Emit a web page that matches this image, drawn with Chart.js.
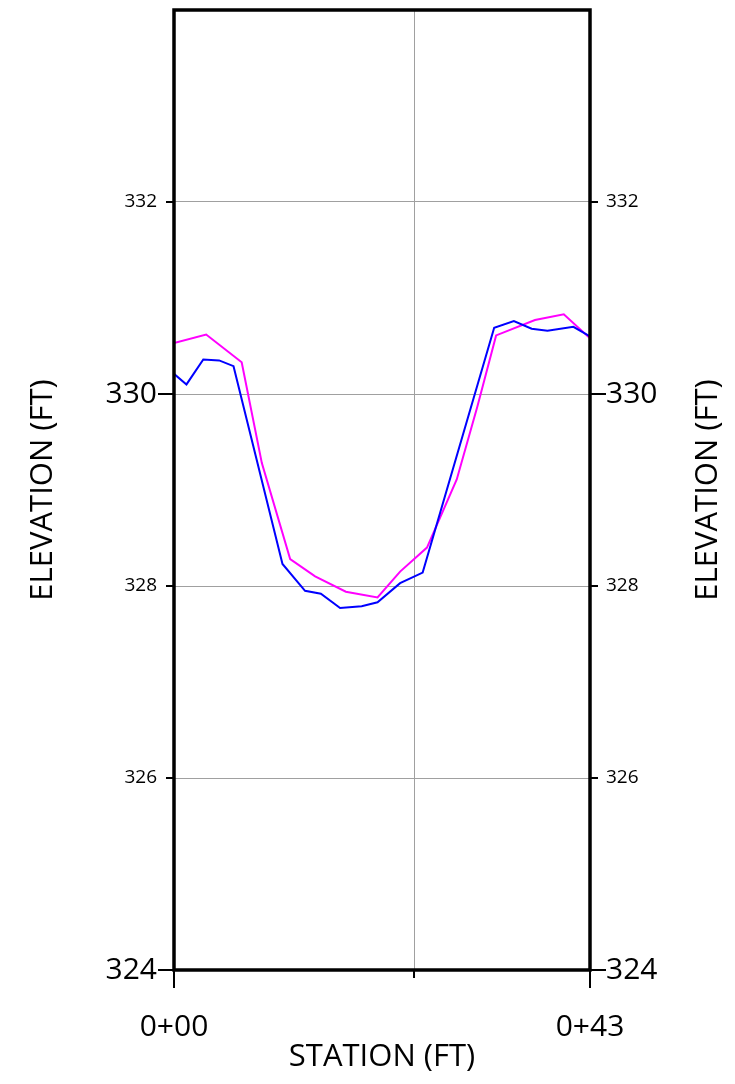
<!DOCTYPE html>
<html lang="en">
<head>
<meta charset="UTF-8">
<title>Station / Elevation</title>
<script src="https://cdn.jsdelivr.net/npm/chart.js"></script>
<style>body{margin:0;background:#fff}</style>
</head>
<body>
<canvas id="chart" width="735" height="1084"></canvas>
<script>
// profile values (station ft, elevation ft)
const blueStation = [0, 1.3, 3.05, 4.7, 6.2, 11.3, 13.65, 15.3, 17.3, 19.55, 21.2, 23.55, 25.9, 33.35, 35.4, 37.25, 38.9, 41.6, 43.33];
const blueElev = [330.21, 330.10, 330.36, 330.35, 330.29, 328.23, 327.95, 327.92, 327.77, 327.79, 327.83, 328.03, 328.14, 330.69, 330.76, 330.68, 330.66, 330.70, 330.60];
const pinkStation = [0, 3.35, 7.05, 9.15, 12.1, 14.7, 17.9, 21.2, 23.55, 26.35, 29.45, 31.6, 33.55, 37.6, 40.6, 43.33];
const pinkElev = [330.53, 330.62, 330.33, 329.28, 328.28, 328.10, 327.94, 327.88, 328.15, 328.40, 329.11, 329.87, 330.61, 330.77, 330.83, 330.58];

const stationTicks = [0, 25, 43.33];
const stationLabels = ['0+00', '', '0+43'];
const stationMajor = [0, 43.33];
const elevTicks = [324, 326, 328, 330, 332];
const elevMajor = [324, 330];

const FONT = "'Open Sans', sans-serif";
const TITLE_SIZE = 31;
const pts = (xs, ys) => xs.map((x, i) => ({ x: x, y: ys[i] }));

// frame + outside tick marks (long for major, short for minor) + right title read bottom-up
const frame = {
  id: 'frame',
  afterDraw(chart) {
    const { ctx, chartArea: a, scales } = chart;
    ctx.save();
    ctx.strokeStyle = '#000';
    ctx.lineWidth = 2;
    ctx.beginPath();
    elevTicks.forEach(v => {
      const y = scales.y.getPixelForValue(v);
      const len = elevMajor.includes(v) ? 16 : 8;
      ctx.moveTo(a.left - len, y); ctx.lineTo(a.left, y);
      ctx.moveTo(a.right, y); ctx.lineTo(a.right + len, y);
    });
    stationTicks.forEach(v => {
      const x = scales.x.getPixelForValue(v);
      const len = stationMajor.includes(v) ? 18 : 8;
      ctx.moveTo(x, a.bottom); ctx.lineTo(x, a.bottom + len);
    });
    ctx.stroke();
    ctx.lineWidth = 3.5;
    ctx.strokeRect(a.left, a.top, a.right - a.left, a.bottom - a.top);

    ctx.translate(chart.width - 27, (a.top + a.bottom) / 2);
    ctx.rotate(-Math.PI / 2);
    ctx.fillStyle = '#000';
    ctx.font = TITLE_SIZE + 'px ' + FONT;
    ctx.textAlign = 'center';
    ctx.textBaseline = 'middle';
    ctx.fillText('ELEVATION (FT)', 0, 0);
    ctx.restore();
  }
};

const noPad = s => { s.paddingTop = 0; s.paddingBottom = 0; };
const yTickFont = c => ({ family: FONT, size: (c.tick && elevMajor.includes(c.tick.value)) ? 30 : 19 });

new Chart(document.getElementById('chart'), {
  type: 'line',
  data: {
    datasets: [
      { data: pts(blueStation, blueElev), borderColor: '#0000ff', borderWidth: 2, pointRadius: 0, tension: 0 },
      { data: pts(pinkStation, pinkElev), borderColor: '#ff00ff', borderWidth: 2, pointRadius: 0, tension: 0 }
    ]
  },
  options: {
    responsive: false,
    animation: false,
    layout: { padding: { top: 10, left: 0, right: 0, bottom: 0 } },
    plugins: { legend: { display: false }, tooltip: { enabled: false } },
    scales: {
      x: {
        type: 'linear', min: 0, max: 43.33,
        afterBuildTicks: s => { s.ticks = stationTicks.map(v => ({ value: v })); },
        afterFit: s => { s.height = 114; s.paddingLeft = 0; s.paddingRight = 0; },
        grid: { color: '#a0a0a0', lineWidth: 1, drawTicks: false },
        border: { display: false },
        ticks: {
          padding: 39, color: '#000', maxRotation: 0, autoSkip: false,
          font: { family: FONT, size: 30 },
          callback: (v, i) => stationLabels[i]
        },
        title: { display: true, text: 'STATION (FT)', color: '#000', font: { family: FONT, size: TITLE_SIZE }, padding: { top: 0, bottom: 8 } }
      },
      y: {
        position: 'left', min: 324, max: 334,
        afterBuildTicks: s => { s.ticks = elevTicks.map(v => ({ value: v })); },
        afterFit: s => { s.width = 174; noPad(s); },
        grid: { color: '#a0a0a0', lineWidth: 1, drawTicks: false },
        border: { display: false },
        ticks: { padding: 17, color: '#000', font: yTickFont },
        title: { display: true, text: 'ELEVATION (FT)', color: '#000', font: { family: FONT, size: TITLE_SIZE }, padding: { top: 25 } }
      },
      y2: {
        position: 'right', min: 324, max: 334,
        afterBuildTicks: s => { s.ticks = elevTicks.map(v => ({ value: v })); },
        afterFit: s => { s.width = 145; noPad(s); },
        grid: { drawOnChartArea: false, drawTicks: false },
        border: { display: false },
        ticks: { padding: 16, color: '#000', font: yTickFont }
      }
    }
  },
  plugins: [frame]
});
</script>
</body>
</html>
